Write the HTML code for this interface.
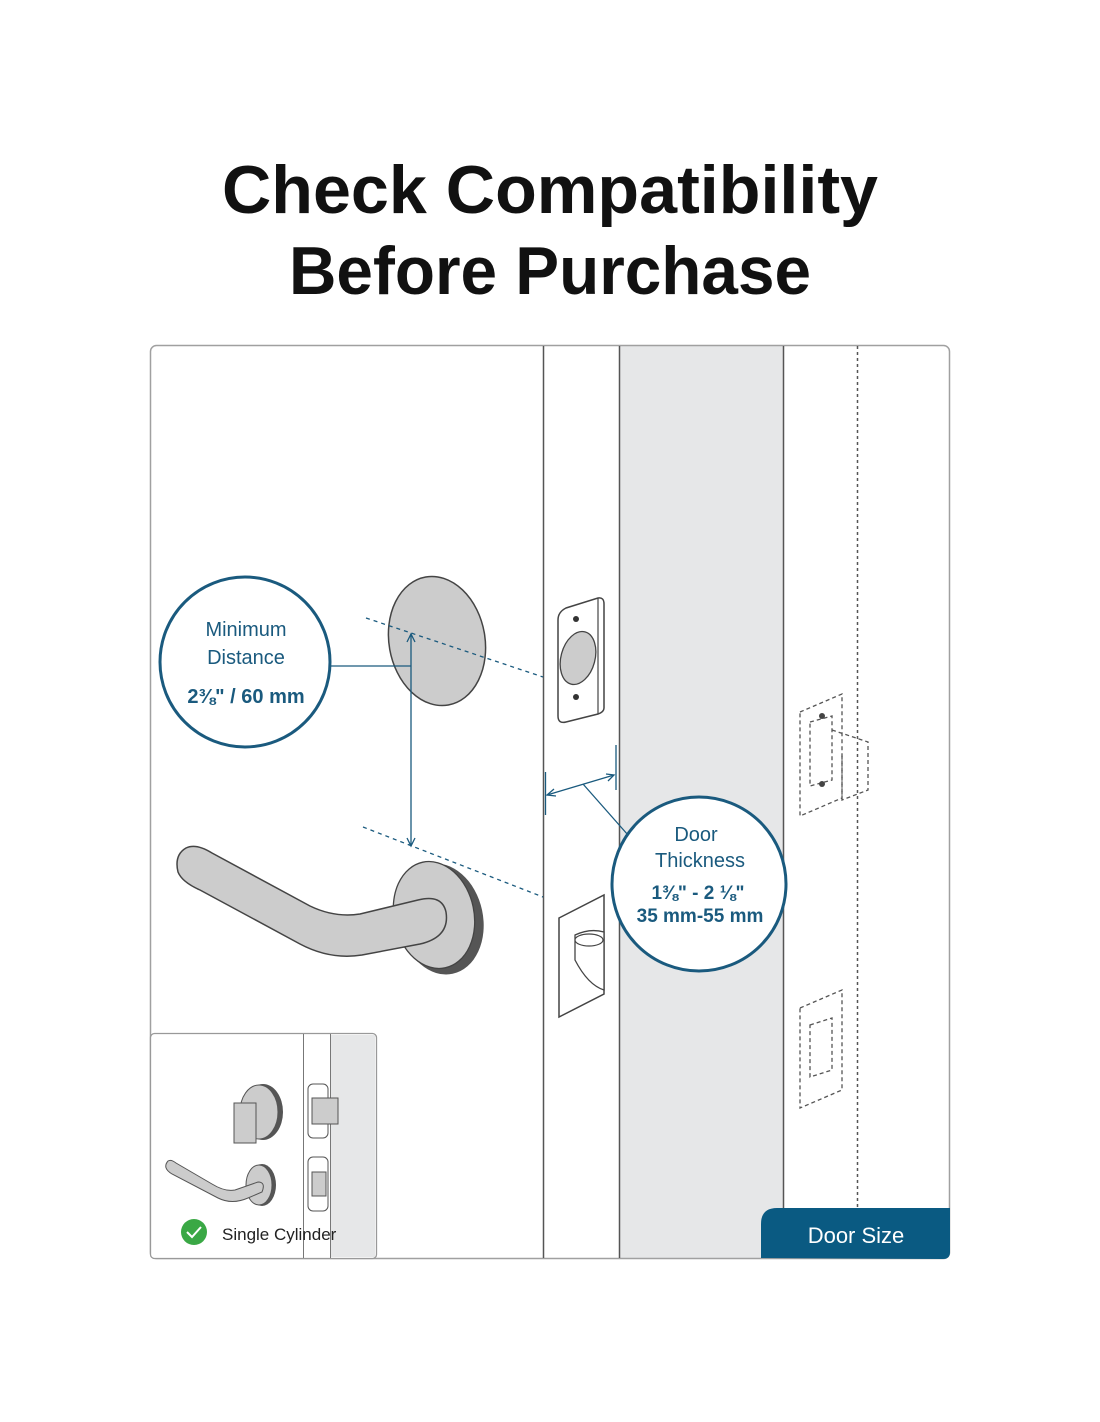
<!DOCTYPE html>
<html><head><style>
body{margin:0;background:#fff;}
svg{display:block}
</style></head><body>
<svg width="1100" height="1422" viewBox="0 0 1100 1422" xmlns="http://www.w3.org/2000/svg" font-family="Liberation Sans, sans-serif">
<text x="550" y="213" text-anchor="middle" font-size="68" font-weight="bold" fill="#111" textLength="656" lengthAdjust="spacingAndGlyphs">Check Compatibility</text>
<text x="550" y="294" text-anchor="middle" font-size="68" font-weight="bold" fill="#111" textLength="522" lengthAdjust="spacingAndGlyphs">Before Purchase</text>

<rect x="620" y="346" width="163" height="912" fill="#e6e7e8"/>
<rect x="150.5" y="345.5" width="799" height="913" rx="6" fill="none" stroke="#a0a0a0" stroke-width="1.5"/>
<line x1="543.5" y1="346" x2="543.5" y2="1258" stroke="#555" stroke-width="1.5"/>
<line x1="619.5" y1="346" x2="619.5" y2="1258" stroke="#555" stroke-width="1.5"/>
<line x1="783.5" y1="346" x2="783.5" y2="1258" stroke="#555" stroke-width="1.5"/>
<line x1="857.5" y1="346" x2="857.5" y2="1208" stroke="#555" stroke-width="1.5" stroke-dasharray="3,3"/>

<g fill="none" stroke="#555" stroke-width="1.3" stroke-dasharray="4,3">
<path d="M800 712 L842 694 L842 798 L800 816 Z"/>
<path d="M810 722 L832 716 L832 780 L810 786 Z"/>
<path d="M832 730 L868 742 L868 790 L842 800 L842 755"/>
<path d="M800 1008 L842 990 L842 1090 L800 1108 Z"/>
<path d="M810 1025 L832 1018 L832 1070 L810 1077 Z"/>
</g>
<circle cx="822" cy="716" r="3" fill="#444"/><circle cx="822" cy="784" r="3" fill="#444"/>

<path d="M558 620 Q558 612 566 608 L598 598 Q604 597 604 604 L604 708 Q604 712 598 714 L566 722 Q558 724 558 716 Z" fill="#fff" stroke="#444" stroke-width="1.5"/>
<line x1="598" y1="598" x2="598" y2="714" stroke="#444" stroke-width="1.2"/>
<ellipse cx="578" cy="658" rx="17" ry="27" transform="rotate(15 578 658)" fill="#ccc" stroke="#444" stroke-width="1.3"/>
<circle cx="576" cy="619" r="3" fill="#333"/><circle cx="576" cy="697" r="3" fill="#333"/>
<path d="M559 918 L604 895 L604 994 L559 1017 Z" fill="#fff" stroke="#444" stroke-width="1.5"/>
<path d="M575 935 Q590 928 604 932 L604 990 Q588 985 575 960 Z" fill="#fff" stroke="#444" stroke-width="1.3"/>
<ellipse cx="589" cy="940" rx="14" ry="6" fill="#fff" stroke="#444" stroke-width="1.2"/>

<ellipse cx="437" cy="641" rx="48" ry="65" transform="rotate(-10 437 641)" fill="#ccc" stroke="#444" stroke-width="1.5"/>
<ellipse cx="441" cy="919" rx="42" ry="56" transform="rotate(-12 441 919)" fill="#555"/>
<ellipse cx="434" cy="915" rx="40" ry="54" transform="rotate(-12 434 915)" fill="#ccc" stroke="#444" stroke-width="1.3"/>
<path d="M186 848 Q174 855 178 872 Q182 882 200 890 L300 944 Q330 960 362 955 L420 944 Q450 937 446 912 Q442 894 418 900 L360 914 Q335 918 310 906 L212 853 Q196 843 186 848 Z" fill="#ccc" stroke="#444" stroke-width="1.5"/>

<g stroke="#1a5a7e" stroke-width="1.3" fill="none">
<line x1="366" y1="618" x2="543" y2="677" stroke-dasharray="4,4"/>
<line x1="363" y1="827" x2="543" y2="897" stroke-dasharray="4,4"/>
<line x1="411" y1="634" x2="411" y2="846"/>
<path d="M407 642 L411 634 L415 642 M407 838 L411 846 L415 838"/>
<line x1="330" y1="666" x2="411" y2="666"/>
<line x1="545.5" y1="772" x2="545.5" y2="815"/>
<line x1="616" y1="745" x2="616" y2="790"/>
<line x1="547" y1="795" x2="614" y2="775"/>
<path d="M554 789 L547 795 L556 796 M606 774 L614 775 L608 781"/>
<line x1="583" y1="784" x2="628" y2="835"/>
</g>

<circle cx="245" cy="662" r="85" fill="#fff" stroke="#1a5a7e" stroke-width="3"/>
<text x="246" y="636" text-anchor="middle" font-size="20" fill="#1a5a7e">Minimum</text>
<text x="246" y="664" text-anchor="middle" font-size="20" fill="#1a5a7e">Distance</text>
<text x="246" y="703" text-anchor="middle" font-size="20" font-weight="bold" fill="#1a5a7e">2⅜" / 60 mm</text>
<circle cx="699" cy="884" r="87" fill="#fff" stroke="#1a5a7e" stroke-width="3"/>
<text x="696" y="841" text-anchor="middle" font-size="20" fill="#1a5a7e">Door</text>
<text x="700" y="867" text-anchor="middle" font-size="20" fill="#1a5a7e">Thickness</text>
<text x="698" y="899" text-anchor="middle" font-size="19" font-weight="bold" fill="#1a5a7e">1⅜" - 2 ⅛"</text>
<text x="700" y="922" text-anchor="middle" font-size="19" font-weight="bold" fill="#1a5a7e">35 mm-55 mm</text>

<path d="M761 1258 L761 1224 Q761 1208 777 1208 L950 1208 L950 1252 Q950 1259 943 1259 Z" fill="#0a5a82"/>
<text x="856" y="1243" text-anchor="middle" font-size="22" fill="#fff">Door Size</text>

<rect x="150.5" y="1033.5" width="226" height="225" rx="4" fill="#fff" stroke="#999" stroke-width="1.3"/>
<rect x="330" y="1035" width="45" height="222" fill="#e6e7e8"/>
<line x1="303.5" y1="1034" x2="303.5" y2="1258" stroke="#777"/>
<line x1="330.5" y1="1034" x2="330.5" y2="1258" stroke="#777"/>
<ellipse cx="263" cy="1112" rx="20" ry="28" fill="#555"/>
<ellipse cx="259" cy="1112" rx="19" ry="27" fill="#ccc" stroke="#555"/>
<rect x="234" y="1103" width="22" height="40" fill="#ccc" stroke="#555"/>
<ellipse cx="262" cy="1185" rx="14" ry="21" fill="#555"/>
<ellipse cx="259" cy="1185" rx="13" ry="20" fill="#ccc" stroke="#555"/>
<path d="M168 1161 Q162 1168 172 1174 L218 1198 Q232 1205 248 1198 L262 1192 Q266 1182 258 1182 L235 1190 Q225 1192 212 1184 L176 1163 Q171 1159 168 1161 Z" fill="#ccc" stroke="#555"/>
<rect x="308" y="1084" width="20" height="54" rx="5" fill="#fff" stroke="#555"/>
<rect x="312" y="1098" width="26" height="26" fill="#ccc" stroke="#555"/>
<rect x="308" y="1157" width="20" height="54" rx="5" fill="#fff" stroke="#555"/>
<rect x="312" y="1172" width="14" height="24" fill="#ccc" stroke="#555"/>
<circle cx="194" cy="1232" r="13" fill="#3aa845"/>
<path d="M187 1232 L192 1237 L201 1227" fill="none" stroke="#fff" stroke-width="2"/>
<text x="222" y="1240" font-size="17" fill="#222">Single Cylinder</text>
</svg>
</body></html>
